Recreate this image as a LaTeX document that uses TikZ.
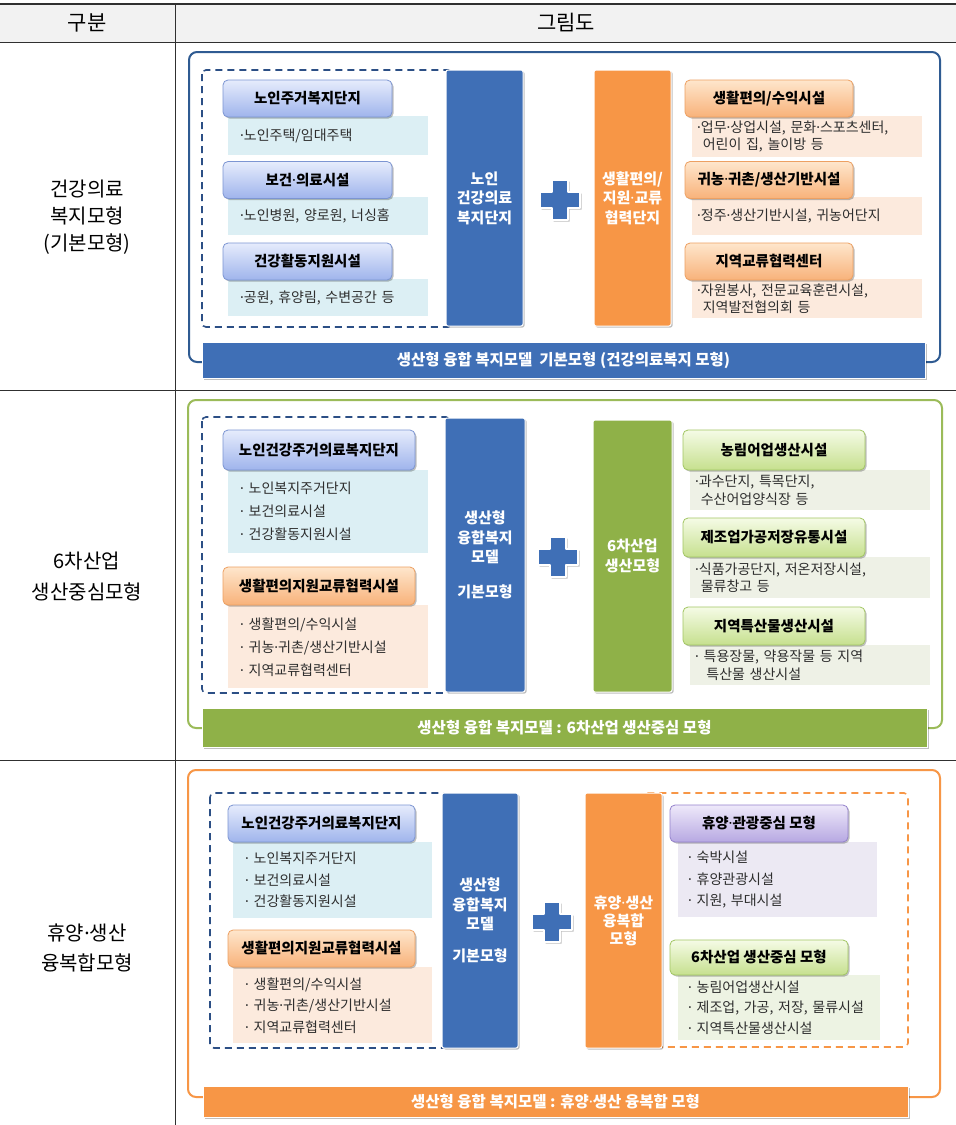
\documentclass[tikz,border=0pt]{standalone}
\usepackage{fontspec}
\setmainfont{Noto Sans CJK KR}
\newfontfamily\notolatin{Noto Sans}
\newcommand{\mdot}{{\notolatin ·}}
\usetikzlibrary{shadows}
\definecolor{tabline}{HTML}{303030}
\definecolor{hdrgray}{HTML}{F2F2F2}
\definecolor{navy}{HTML}{2F5B92}
\definecolor{dashnavy}{HTML}{2C4F85}
\definecolor{colblue}{HTML}{3F6FB6}
\definecolor{colorange}{HTML}{F79646}
\definecolor{colgreen}{HTML}{8FB148}
\definecolor{bordgreen}{HTML}{9BBB59}
\definecolor{hbtop}{HTML}{E6ECFC}
\definecolor{hbbot}{HTML}{9FB4EC}
\definecolor{hbdraw}{HTML}{7C95D2}
\definecolor{hotop}{HTML}{FEE6CC}
\definecolor{hobot}{HTML}{F8B27A}
\definecolor{hodraw}{HTML}{EDA062}
\definecolor{hgtop}{HTML}{F5FBE6}
\definecolor{hgbot}{HTML}{C6E08E}
\definecolor{hgdraw}{HTML}{A2C663}
\definecolor{hptop}{HTML}{EEE9FA}
\definecolor{hpbot}{HTML}{B7A8E2}
\definecolor{hpdraw}{HTML}{9482CC}
\definecolor{cyanbg}{HTML}{DCEFF4}
\definecolor{peachbg}{HTML}{FCEADD}
\definecolor{greenbg}{HTML}{EEF1E6}
\definecolor{lgreenbg}{HTML}{EDF3E3}
\definecolor{lavbg}{HTML}{ECE9F3}
\definecolor{txtgray}{HTML}{2E2E2E}
\begin{document}
\begin{tikzpicture}[x=1pt,y=-1pt,
  myshadow/.style={drop shadow={shadow xshift=1.5pt, shadow yshift=-1.5pt, opacity=0.25, fill=black}},
  hdr/.style={rounded corners=5pt, minimum height=37pt, font=\bfseries\fontsize{14.5}{16}\selectfont, text=black, myshadow, line width=0.8pt, inner xsep=2pt},
  hdrB/.style={hdr, top color=hbtop, bottom color=hbbot, draw=hbdraw},
  hdrO/.style={hdr, top color=hotop, bottom color=hobot, draw=hodraw},
  hdrG/.style={hdr, top color=hgtop, bottom color=hgbot, draw=hgdraw},
  hdrP/.style={hdr, top color=hptop, bottom color=hpbot, draw=hpdraw},
  descbox/.style={anchor=north west, align=left, inner xsep=12pt, inner ysep=2pt, text=txtgray},
  dsmall/.style={descbox, font=\fontsize{14}{17.5}\selectfont},
  dlarge/.style={descbox, font=\fontsize{14}{23}\selectfont},
  dmid/.style={descbox, font=\fontsize{14}{21.5}\selectfont},
  colbox/.style={rounded corners=2pt, text=white, align=center, myshadow, draw=white, line width=1pt, font=\bfseries\fontsize{15}{19.5}\selectfont},
  banner/.style={text=white, myshadow, draw=white, line width=1pt, font=\bfseries\fontsize{15.5}{17}\selectfont},
  outerbox/.style={rounded corners=8pt, line width=2pt, fill=white},
  dashbox/.style={dash pattern=on 7pt off 5pt, line width=1.6pt, rounded corners=4pt},
  lbl/.style={align=center, text=black, font=\fontsize{20}{27}\selectfont},
  plusshape/.style={fill=colblue, draw=white, line width=2.2pt, line join=round, myshadow}
]
\useasboundingbox (0,0) rectangle (956,1125);
\fill[white] (0,0) rectangle (956,1125);

% ---------- table ----------
\fill[hdrgray] (0,4) rectangle (956,42);
\draw[tabline, line width=1.6pt] (0,4) -- (956,4);
\draw[tabline, line width=0.8pt] (0,42) -- (956,42);
\draw[tabline, line width=0.8pt] (0,390) -- (956,390);
\draw[tabline, line width=0.8pt] (0,760) -- (956,760);
\draw[tabline, line width=0.8pt] (175,4) -- (175,1125);

\node[lbl, font=\fontsize{21}{24}\selectfont] (hA) at (87,23) {구분};
\node[lbl, font=\fontsize{21}{24}\selectfont] (hB) at (566,23) {그림도};
\node[lbl] (l1) at (87,217) {건강의료\\복지모형\\(기본모형)};
\node[lbl, font=\fontsize{20}{31}\selectfont] (l2) at (87,576) {6차산업\\생산중심모형};
\node[lbl, font=\fontsize{20}{30}\selectfont] (l3) at (87,948) {휴양\mdot 생산\\융복합모형};

% ================= ROW 1 =================
\draw[outerbox, draw=navy] (189,52) rectangle (940,362);
\draw[dashbox, draw=dashnavy] (202,70) rectangle (452,327);
\node[colbox, fill=colblue, minimum width=77pt, minimum height=256pt] (c11) at (484.5,198) {노인\\건강의료\\복지단지};
\node[colbox, fill=colorange, minimum width=77pt, minimum height=256pt] (c12) at (632.5,198) {생활편의/\\지원\mdot 교류\\협력단지};
\begin{scope}[shift={(560,200)}]
\draw[plusshape] (-8,-20) -- (8,-20) -- (8,-8) -- (20,-8) -- (20,8) -- (8,8) -- (8,20)
      -- (-8,20) -- (-8,8) -- (-20,8) -- (-20,-8) -- (-8,-8) -- cycle;
\end{scope}

\node[descbox, dsmall, fill=cyanbg, minimum width=200pt, minimum height=39pt, text width=176pt] (d11) at (228,116) {\mdot 노인주택/임대주택};
\node[descbox, dsmall, fill=cyanbg, minimum width=200pt, minimum height=38pt, text width=176pt] (d12) at (228,197) {\mdot 노인병원, 양로원, 너싱홈};
\node[descbox, dsmall, fill=cyanbg, minimum width=200pt, minimum height=37pt, text width=176pt] (d13) at (228,279) {\mdot 공원, 휴양림, 수변공간 등};
\node[hdrB, minimum width=169pt] (h11) at (307.5,98.5) {노인주거복지단지};
\node[hdrB, minimum width=169pt] (h12) at (307.5,180) {보건\mdot 의료시설};
\node[hdrB, minimum width=169pt] (h13) at (307.5,261.5) {건강활동지원시설};

\node[descbox, dsmall, fill=peachbg, minimum width=230pt, minimum height=41pt, text width=220pt, inner xsep=5pt] (rd11) at (692,116) {\mdot 업무\mdot 상업시설, 문화\mdot 스포츠센터,\\\hspace*{0.4em}어린이 집, 놀이방 등};
\node[descbox, dsmall, fill=peachbg, minimum width=230pt, minimum height=38pt, text width=220pt, inner xsep=5pt] (rd12) at (692,197) {\mdot 정주\mdot 생산기반시설, 귀농어단지};
\node[descbox, dsmall, fill=peachbg, minimum width=230pt, minimum height=39pt, text width=220pt, inner xsep=5pt] (rd13) at (692,279) {\mdot 자원봉사, 전문교육훈련시설,\\\hspace*{0.4em}지역발전협의회 등};
\node[hdrO, minimum width=168pt] (r11) at (769,98.5) {생활편의/수익시설};
\node[hdrO, minimum width=168pt] (r12) at (769,180) {귀농\mdot 귀촌/생산기반시설};
\node[hdrO, minimum width=168pt] (r13) at (769,261.5) {지역교류협력센터};

\node[banner, fill=colblue, minimum width=723pt, minimum height=36pt] (b1) at (563.5,360) {생산형 융합 복지모델 \ 기본모형 (건강의료복지 모형)};

% ================= ROW 2 =================
\draw[outerbox, draw=bordgreen] (188,400) rectangle (942,728);
\draw[dashbox, draw=dashnavy] (202,417) rectangle (450,693);
\node[colbox, fill=colblue, minimum width=80pt, minimum height=274pt] (c21) at (485,555) {생산형\\융합복지\\모델\\[15pt]기본모형};
\node[colbox, fill=colgreen, minimum width=79pt, minimum height=272pt] (c22) at (632.5,556) {6차산업\\생산모형};
\begin{scope}[shift={(558,557)}]
\draw[plusshape] (-8,-20) -- (8,-20) -- (8,-8) -- (20,-8) -- (20,8) -- (8,8) -- (8,20)
      -- (-8,20) -- (-8,8) -- (-20,8) -- (-20,-8) -- (-8,-8) -- cycle;
\end{scope}

\node[descbox, dlarge, fill=cyanbg, minimum width=200pt, minimum height=83pt, text width=176pt] (d21) at (228,470) {\mdot\ 노인복지주거단지\\\mdot\ 보건의료시설\\\mdot\ 건강활동지원시설};
\node[descbox, dlarge, fill=peachbg, minimum width=200pt, minimum height=83pt, text width=176pt] (d22) at (228,605) {\mdot\ 생활편의/수익시설\\\mdot\ 귀농\mdot 귀촌/생산기반시설\\\mdot\ 지역교류협력센터};
\node[hdrB, minimum width=192pt, minimum height=40pt] (h21) at (319,450) {노인건강주거의료복지단지};
\node[hdrO, minimum width=192pt, minimum height=38pt] (h22) at (319,586) {생활편의지원교류협력시설};

\node[descbox, dsmall, fill=greenbg, minimum width=240pt, minimum height=40pt, text width=230pt, inner xsep=5pt] (gd21) at (690,470) {\mdot 과수단지, 특목단지,\\\hspace*{0.4em}수산어업양식장 등};
\node[descbox, dsmall, fill=greenbg, minimum width=240pt, minimum height=41pt, text width=230pt, inner xsep=5pt] (gd22) at (690,557) {\mdot 식품가공단지, 저온저장시설,\\\hspace*{0.4em}물류창고 등};
\node[descbox, dsmall, fill=greenbg, minimum width=240pt, minimum height=40pt, text width=230pt, inner xsep=5pt] (gd23) at (690,645) {\mdot\ 특용장물, 약용작물 등 지역\\\hspace*{0.8em}특산물 생산시설};
\node[hdrG, minimum width=182pt, minimum height=40pt] (g21) at (774,450) {농림어업생산시설};
\node[hdrG, minimum width=182pt, minimum height=39pt] (g22) at (774,537.5) {제조업가공저장유통시설};
\node[hdrG, minimum width=182pt, minimum height=38pt] (g23) at (774,626) {지역특산물생산시설};

\node[banner, fill=colgreen, minimum width=725pt, minimum height=39pt] (b2) at (564.5,727.5) {생산형 융합 복지모델 : 6차산업 생산중심 모형};

% ================= ROW 3 =================
\draw[outerbox, draw=colorange] (188,770) rectangle (940,1097);
\draw[dashbox, draw=dashnavy] (210,793) rectangle (446,1048);
\draw[dashbox, draw=colorange] (640,793) rectangle (908,1047);
\node[colbox, fill=colblue, minimum width=76pt, minimum height=255pt] (c31) at (480,920.5) {생산형\\융합복지\\모델\\[12pt]기본모형};
\node[colbox, fill=colorange, minimum width=77pt, minimum height=255pt, font=\bfseries\fontsize{15}{18}\selectfont] (c32) at (623.5,920.5) {휴양\mdot 생산\\융복합\\모형};
\begin{scope}[shift={(552,922)}]
\draw[plusshape] (-8,-20) -- (8,-20) -- (8,-8) -- (20,-8) -- (20,8) -- (8,8) -- (8,20)
      -- (-8,20) -- (-8,8) -- (-20,8) -- (-20,-8) -- (-8,-8) -- cycle;
\end{scope}

\node[descbox, dmid, fill=cyanbg, minimum width=199pt, minimum height=76pt, text width=175pt] (d31) at (233,842) {\mdot\ 노인복지주거단지\\\mdot\ 보건의료시설\\\mdot\ 건강활동지원시설};
\node[descbox, dmid, fill=peachbg, minimum width=199pt, minimum height=76pt, text width=175pt] (d32) at (233,967) {\mdot\ 생활편의/수익시설\\\mdot\ 귀농\mdot 귀촌/생산기반시설\\\mdot\ 지역교류협력센터};
\node[hdrB, minimum width=187pt] (h31) at (321.5,823.5) {노인건강주거의료복지단지};
\node[hdrO, minimum width=187pt] (h32) at (321.5,948.5) {생활편의지원교류협력시설};

\node[descbox, dmid, fill=lavbg, minimum width=199pt, minimum height=75pt, text width=179pt, inner xsep=10pt] (pd31) at (678,842) {\mdot\ 숙박시설\\\mdot\ 휴양관광시설\\\mdot\ 지원, 부대시설};
\node[descbox, font=\fontsize{14}{20.5}\selectfont, fill=lgreenbg, minimum width=202pt, minimum height=65pt, text width=182pt, inner xsep=10pt] (gd31) at (678,975) {\mdot\ 농림어업생산시설\\\mdot\ 제조업, 가공, 저장, 물류시설\\\mdot\ 지역특산물생산시설};
\node[hdrP, minimum width=178pt] (p31) at (759,823.5) {휴양\mdot 관광중심 모형};
\node[hdrG, minimum width=178pt, minimum height=35pt] (g31) at (759,957.5) {6차산업 생산중심 모형};

\node[banner, fill=colorange, minimum width=705pt, minimum height=31pt] (b3) at (555.5,1102) {생산형 융합 복지모델 : 휴양\mdot 생산 융복합 모형};
\end{tikzpicture}
\end{document}
